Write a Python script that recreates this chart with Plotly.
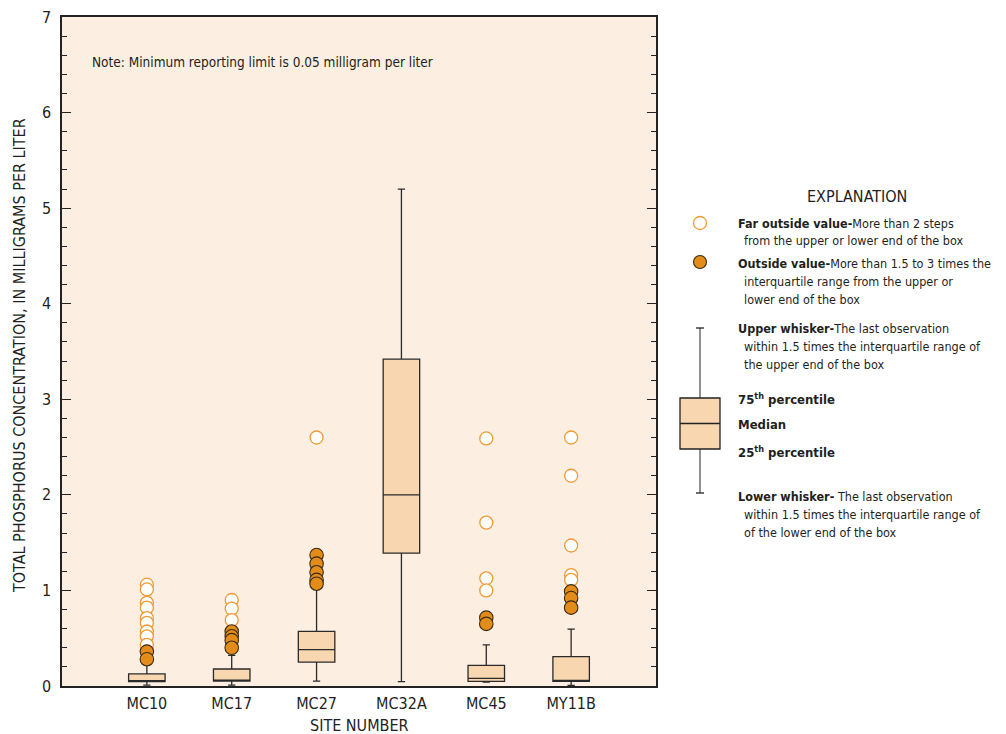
import plotly.graph_objects as go

# Sites and box statistics (total phosphorus, mg/L)
sites = ["MC10", "MC17", "MC27", "MC32A", "MC45", "MY11B"]
q1 = [0.045, 0.052, 0.25, 1.39, 0.049, 0.049]
median = [0.05, 0.06, 0.38, 2.0, 0.08, 0.05]
q3 = [0.126, 0.178, 0.572, 3.42, 0.216, 0.307]
lower_whisker = [0.01, 0.01, 0.052, 0.045, 0.04, 0.005]
upper_whisker = [0.25, 0.32, 1.05, 5.20, 0.43, 0.596]

# Outside values (1.5 to 3 times the IQR)
outside = {
    "MC10": [0.36, 0.28],
    "MC17": [0.57, 0.52, 0.48, 0.40],
    "MC27": [1.37, 1.28, 1.19, 1.11, 1.07],
    "MC32A": [],
    "MC45": [0.715, 0.65],
    "MY11B": [0.99, 0.92, 0.82],
}
# Far outside values
far_outside = {
    "MC10": [1.06, 1.01, 0.87, 0.82, 0.71, 0.66, 0.57, 0.52, 0.43],
    "MC17": [0.90, 0.81, 0.69],
    "MC27": [2.60],
    "MC32A": [],
    "MC45": [2.59, 1.71, 1.127, 1.0],
    "MY11B": [2.60, 2.20, 1.47, 1.16, 1.11],
}

y_ticks = [0, 1, 2, 3, 4, 5, 6, 7]

BG = "#FCEFE2"
BOX_FILL = "#F8D7B0"
DOT_FILL = "#E38C19"
OPEN_EDGE = "#EE9A36"
INK = "#231F20"
FONT = "Liberation Sans Narrow, DejaVu Sans Condensed, Arial Narrow, sans-serif"

W, H = 1006, 734
L, R, T, B = 62, 656, 17, 686

xs = list(range(len(sites)))

fig = go.Figure()
fig.add_trace(go.Box(
    x=xs, q1=q1, median=median, q3=q3,
    lowerfence=lower_whisker, upperfence=upper_whisker,
    width=0.43, whiskerwidth=0.2,
    fillcolor=BOX_FILL, line=dict(color="#2a2a2a", width=1.3),
    boxpoints=False, showlegend=False, hoverinfo="skip",
))

fx, fy = [], []
for i, s in enumerate(sites):
    for v in far_outside[s]:
        fx.append(i)
        fy.append(v)
fig.add_trace(go.Scatter(
    x=fx, y=fy, mode="markers", showlegend=False, hoverinfo="skip",
    marker=dict(size=13, color="white", line=dict(color=OPEN_EDGE, width=1.3)),
))

ox, oy = [], []
for i, s in enumerate(sites):
    for v in outside[s]:
        ox.append(i)
        oy.append(v)
fig.add_trace(go.Scatter(
    x=ox, y=oy, mode="markers", showlegend=False, hoverinfo="skip",
    marker=dict(size=13.5, color=DOT_FILL, line=dict(color="#3b2a12", width=1.1)),
))


def px_x(p):
    return (p - L) / (R - L)


def px_y(p):
    return (B - p) / (B - T)


shapes = []
annotations = []

# Explanation symbols
shapes.append(dict(type="circle", xref="paper", yref="paper", xsizemode="pixel", ysizemode="pixel",
                   xanchor=px_x(700), yanchor=px_y(223), x0=-6.5, x1=6.5, y0=-6.5, y1=6.5,
                   fillcolor="white", line=dict(color=OPEN_EDGE, width=1.3)))
shapes.append(dict(type="circle", xref="paper", yref="paper", xsizemode="pixel", ysizemode="pixel",
                   xanchor=px_x(700), yanchor=px_y(262), x0=-6.5, x1=6.5, y0=-6.5, y1=6.5,
                   fillcolor=DOT_FILL, line=dict(color="#3b2a12", width=1.1)))
# Explanation box plot
wline = dict(color="#555555", width=1.3)
shapes.append(dict(type="line", xref="paper", yref="paper", x0=px_x(700), x1=px_x(700),
                   y0=px_y(328), y1=px_y(398), line=wline))
shapes.append(dict(type="line", xref="paper", yref="paper", x0=px_x(700), x1=px_x(700),
                   y0=px_y(449), y1=px_y(493), line=wline))
shapes.append(dict(type="line", xref="paper", yref="paper", x0=px_x(696), x1=px_x(704),
                   y0=px_y(328), y1=px_y(328), line=dict(color="#222", width=1.3)))
shapes.append(dict(type="line", xref="paper", yref="paper", x0=px_x(696), x1=px_x(704),
                   y0=px_y(493), y1=px_y(493), line=dict(color="#222", width=1.3)))
shapes.append(dict(type="rect", xref="paper", yref="paper", x0=px_x(680), x1=px_x(720),
                   y0=px_y(449), y1=px_y(398), fillcolor=BOX_FILL, line=dict(color="#222", width=1.3)))
shapes.append(dict(type="line", xref="paper", yref="paper", x0=px_x(680), x1=px_x(720),
                   y0=px_y(423.5), y1=px_y(423.5), line=dict(color="#222", width=1.3)))


def text(px, py, s, size=12.5, xanchor="left", angle=0):
    annotations.append(dict(x=px_x(px), y=px_y(py), xref="paper", yref="paper", text=s,
                            showarrow=False, xanchor=xanchor, yanchor="middle", textangle=angle,
                            font=dict(family=FONT, size=size, color=INK)))


text(857, 196, "EXPLANATION", size=16, xanchor="center")
text(736, 223, "<b>Far outside value-</b>More than 2 steps")
text(742, 240, "from the upper or lower end of the box")
text(736, 263, "<b>Outside value-</b>More than 1.5 to 3 times the")
text(742, 281, "interquartile range from the upper or")
text(742, 299, "lower end of the box")
text(736, 328, "<b>Upper whisker-</b>The last observation")
text(742, 346, "within 1.5 times the interquartile range of")
text(742, 365, "the upper end of the box")
text(736, 399, "<b>75<sup>th</sup> percentile</b>", size=13)
text(736, 424, "<b>Median</b>", size=13)
text(736, 452, "<b>25<sup>th</sup> percentile</b>", size=13)
text(736, 496, "<b>Lower whisker-</b> The last observation")
text(742, 514, "within 1.5 times the interquartile range of")
text(742, 532, "of the lower end of the box")

text(90, 62, "Note: Minimum reporting limit is 0.05 milligram per liter", size=13.5)

# Axis titles
text(359, 725, "SITE NUMBER", size=16, xanchor="center")
text(19, 356, "TOTAL PHOSPHORUS CONCENTRATION, IN MILLIGRAMS PER LITER", size=16,
     xanchor="center", angle=-90)

fig.update_layout(
    width=W, height=H,
    margin=dict(l=L, r=W - R, t=T, b=H - B),
    paper_bgcolor="white", plot_bgcolor=BG,
    font=dict(family=FONT, color=INK, size=16),
    shapes=shapes, annotations=annotations,
    showlegend=False,
)
fig.update_xaxes(
    range=[-1, 6], tickmode="array", tickvals=xs, ticktext=sites,
    showgrid=False, zeroline=False, showline=True, linecolor="#222", linewidth=1.5,
    mirror=True, ticks="", tickfont=dict(size=16), ticklabelstandoff=2,
    automargin=False,
)
fig.update_yaxes(
    range=[0, 7], tickmode="array", tickvals=y_ticks,
    showgrid=False, zeroline=False, showline=True, linecolor="#222", linewidth=1.5,
    mirror="ticks", ticks="inside", ticklen=9, tickwidth=1.2, tickcolor="#222",
    minor=dict(dtick=0.2, ticks="inside", ticklen=5, tickwidth=1.2, tickcolor="#222"),
    tickfont=dict(size=16), ticklabelstandoff=6,
    automargin=False,
)

fig.write_html("out.html")
